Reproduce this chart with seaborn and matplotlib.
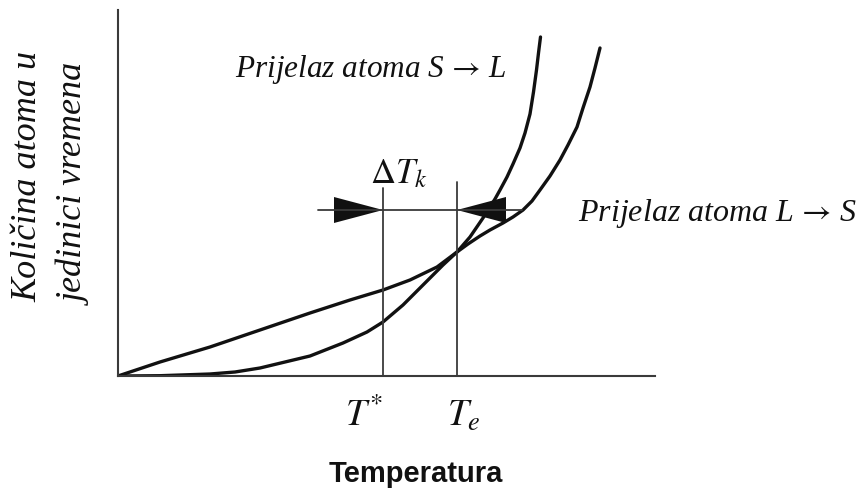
import numpy as np
import pandas as pd
import seaborn as sns
import matplotlib.pyplot as plt

sns.set_theme(style="white")
plt.rcParams['mathtext.fontset'] = 'stix'

# curve S -> L (steep one) (arbitrary units)
sl_x = [0, 42, 92, 117, 142, 192, 225, 249, 265, 285, 309, 325, 339, 352, 365, 377,
        382, 389, 395, 402, 407, 412, 415.5, 418.5, 420.5, 422.5]
sl_y = [0, 0.3, 2, 4, 8, 20, 33, 44, 54, 71, 95, 111, 124, 139, 158, 177,
        186, 199, 212, 228, 243, 262, 284, 306, 323, 339]

# curve L -> S
ls_x = [0, 42, 92, 142, 192, 232, 265, 292, 319, 339, 350, 362, 372, 385, 395, 405,
        414, 422, 432, 442, 450, 459, 465, 472, 477, 482]
ls_y = [0, 14, 29, 46, 63, 76, 86, 96, 109, 124, 132, 140, 146, 153, 159, 166,
        175, 186, 200, 216, 231, 249, 268, 289, 308, 328]

# marker temperatures and the Delta T_k dimension line
T_star = 265
T_e = 339
T_star_top, T_e_top = 188, 194
bar_y = 166
bar_left, bar_right = 200, 404
arrow_len = 49
arrow_half = 13

df = pd.concat([
    pd.DataFrame({"T": sl_x, "n": sl_y, "prijelaz": "S->L"}),
    pd.DataFrame({"T": ls_x, "n": ls_y, "prijelaz": "L->S"}),
])

W, H = 861, 499
fig = plt.figure(figsize=(W / 100, H / 100), dpi=100)
ax = fig.add_axes([118 / W, 1 - 376 / H, 537 / W, 366 / H])

sns.lineplot(data=df, x="T", y="n", units="prijelaz", estimator=None, sort=False,
             color="#111111", lw=2.4, ax=ax, legend=False)

ax.set_xlim(0, 537)
ax.set_ylim(0, 366)
ax.set_xticks([])
ax.set_yticks([])
ax.set_xlabel("")
ax.set_ylabel("")
for s in ["top", "right"]:
    ax.spines[s].set_visible(False)
for s in ["left", "bottom"]:
    ax.spines[s].set_color("#3a3a3a")
    ax.spines[s].set_linewidth(1.5)

line_kw = dict(color="#3a3a3a", lw=1.3)
ax.plot([T_star, T_star], [0, T_star_top], **line_kw)
ax.plot([T_e, T_e], [0, T_e_top], **line_kw)
ax.plot([bar_left, bar_right], [bar_y, bar_y], **line_kw)
ax.fill([T_star - arrow_len, T_star, T_star - arrow_len],
        [bar_y - arrow_half, bar_y, bar_y + arrow_half], color="#111111", lw=0)
ax.fill([T_e + arrow_len, T_e, T_e + arrow_len],
        [bar_y - arrow_half, bar_y, bar_y + arrow_half], color="#111111", lw=0)

serif = dict(family="Liberation Serif", style="italic", color="#111111")
ax.text(117, 306, r"Prijelaz atoma S$\,\rightarrow\,$L", fontsize=22.5, ha="left", va="center", **serif)
ax.text(460, 163, r"Prijelaz atoma L$\,\rightarrow\,$S", fontsize=23, ha="left", va="center", **serif)

ax.text(252, 193, r"$\Delta T_k$", fontsize=25, ha="left", va="baseline", color="#111111")
ax.text(227, -50, r"$T^{*}$", fontsize=27, ha="left", va="baseline", color="#111111")
ax.text(329, -50, r"$T_e$", fontsize=27, ha="left", va="baseline", color="#111111")

fig.text(416 / W, 1 - 482 / H, "Temperatura", family="Liberation Sans", weight="bold",
         fontsize=21, ha="center", va="baseline", color="#111111")
fig.text(28 / W, 1 - 176 / H, "Količina atoma u", rotation=90,
         fontsize=26, ha="center", va="center", **serif)
fig.text(76 / W, 1 - 185 / H, "jedinici vremena", rotation=90,
         fontsize=26, ha="center", va="center", **serif)

fig.savefig("out.png", dpi=100)
